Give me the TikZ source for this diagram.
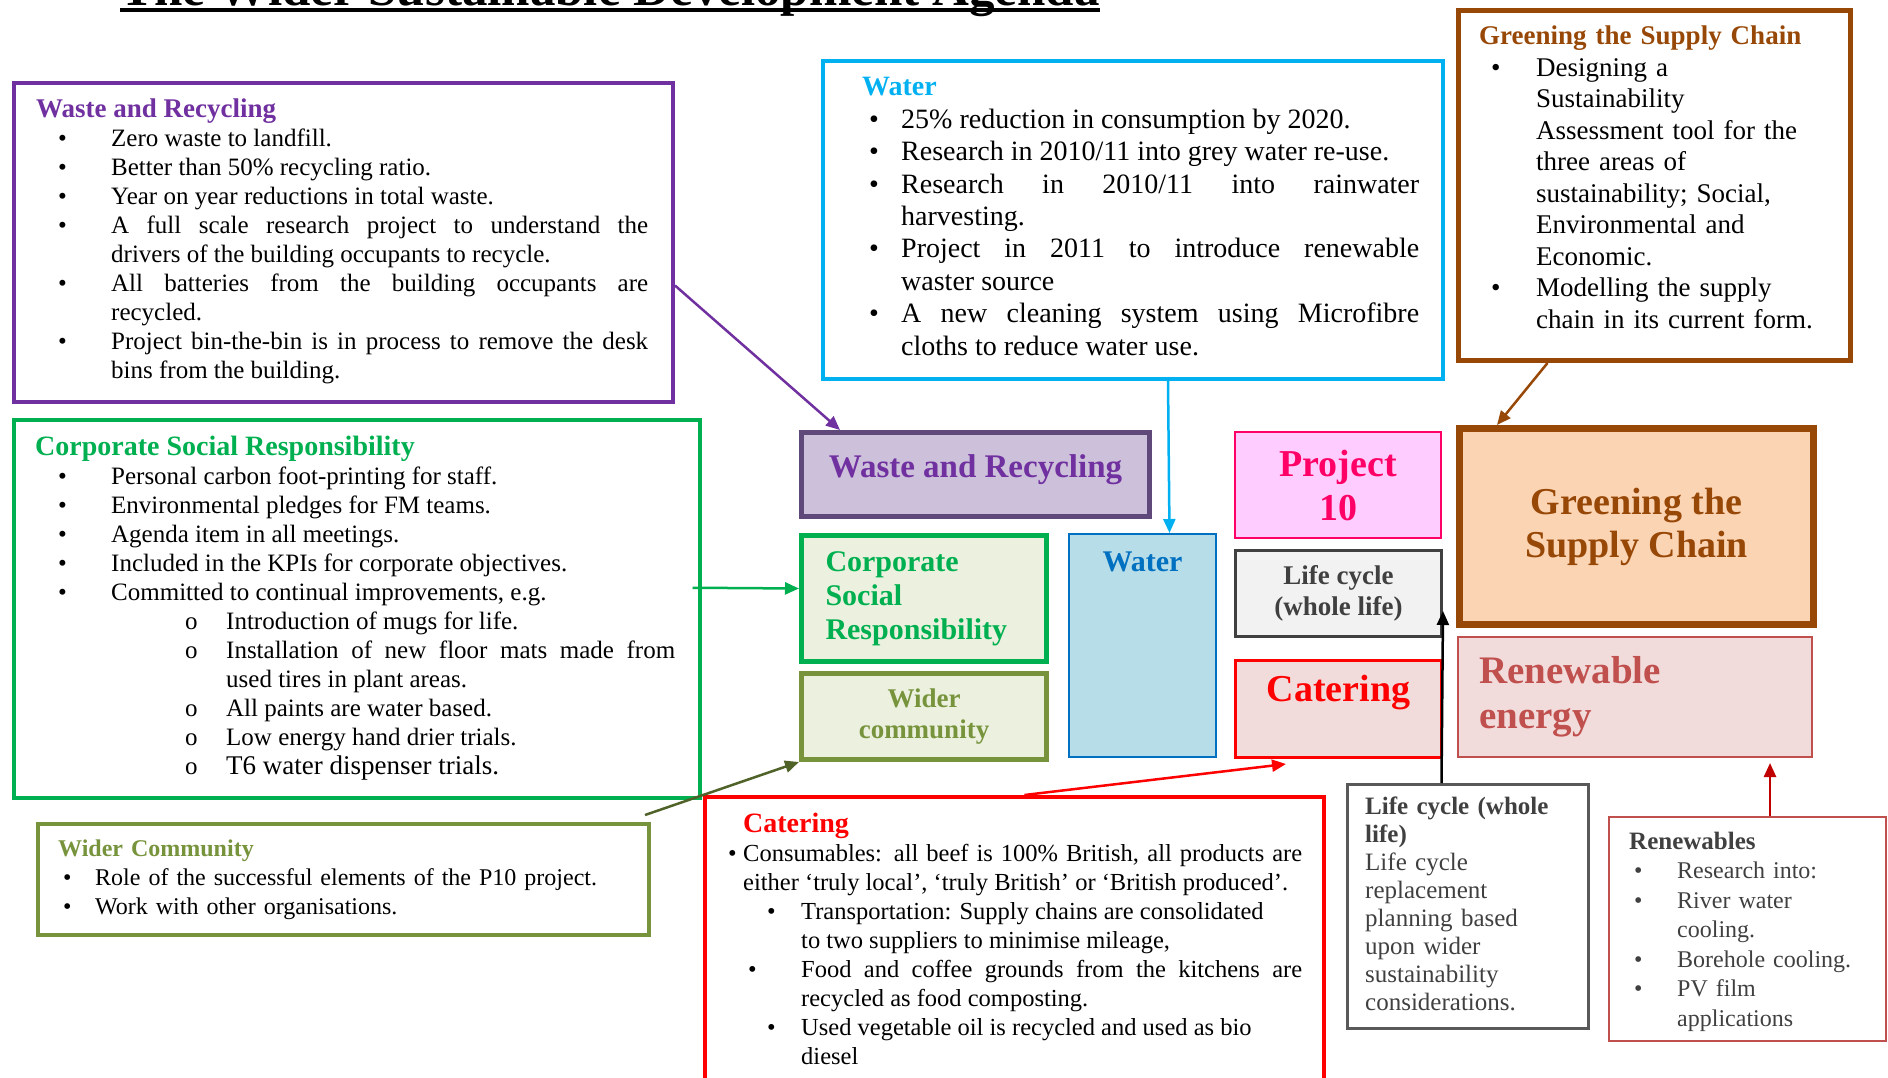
\documentclass[tikz,border=0pt]{standalone}
\usepackage{fontspec}
\setmainfont{Liberation Serif}
\usetikzlibrary{arrows.meta}
\hyphenpenalty=10000
\exhyphenpenalty=10000

\definecolor{wrpurple}{HTML}{7030A0}
\definecolor{wrframe}{HTML}{5F497A}
\definecolor{wrfill}{HTML}{CCC0DA}
\definecolor{wcyan}{HTML}{00B0F0}
\definecolor{wblue}{HTML}{0070C0}
\definecolor{wfill}{HTML}{B7DDE8}
\definecolor{gbrown}{HTML}{984806}
\definecolor{gfill}{HTML}{FBD4B4}
\definecolor{csrgreen}{HTML}{00B050}
\definecolor{lgfill}{HTML}{EBF1DE}
\definecolor{wcolive}{HTML}{77933C}
\definecolor{wcdark}{HTML}{4F6228}
\definecolor{pmag}{HTML}{FF0066}
\definecolor{pfill}{HTML}{FFCCFF}
\definecolor{lcgray}{HTML}{404040}
\definecolor{lcframe}{HTML}{595959}
\definecolor{lcfill}{HTML}{F2F2F2}
\definecolor{catred}{HTML}{FF0000}
\definecolor{pinkfill}{HTML}{F2DCDB}
\definecolor{renred}{HTML}{C0504D}
\definecolor{darkred}{HTML}{C00000}

% bullet lists inside the text boxes
\newlength\bulin \newlength\txtin
\newlength\subin \newlength\subtxt
\newcommand\subsym{o}
\newcommand\bul[1]{\par\noindent\hangindent=\txtin\hangafter=1\makebox[\txtin][l]{\hspace*{\bulin}\textbullet}#1}
\newcommand\subul[2][\subin]{\par\noindent\hangindent=\subtxt\hangafter=1\makebox[\subtxt][l]{\hspace*{#1}\subsym}#2}

\tikzset{
  frm/.style={draw, inner sep=0pt, anchor=north west},
  txt/.style={inner sep=0pt, anchor=base west},
  cbox/.style={draw, inner sep=0pt, anchor=north west, align=center},
  arr/.style={line width=2.5pt, -{Triangle[length=14pt,width=12pt]}},
}

\begin{document}
\begin{tikzpicture}[x=1pt,y=-1pt]
\useasboundingbox (0,0) rectangle (1888,1078);

\node[txt, font=\bfseries\fontsize{51}{56}\selectfont] (title) at (120,6) {The Wider Sustainable Development Agenda};
\draw[line width=4pt] ([yshift=-4pt]title.base west) -- ([yshift=-4pt]title.base east);

% detail boxes
\node[frm, draw=wrpurple, line width=4pt, minimum width=659pt, minimum height=319pt] (wrdet) at (12,81) {};
\node[txt, text width=612pt, align=justify, font=\fontsize{25}{29}\selectfont] (wrtxt) at (36,118) {%
\setlength\bulin{22pt}\setlength\txtin{75pt}%
{\color{wrpurple}\bfseries\fontsize{27}{29}\selectfont Waste and Recycling}
\bul{Zero waste to landfill.}
\bul{Better than 50\% recycling ratio.}
\bul{Year on year reductions in total waste.}
\bul{A full scale research project to understand the \linebreak drivers of the building occupants to recycle.}
\bul{All batteries from the building occupants are \linebreak recycled.}
\bul{Project bin-the-bin is in process to remove the desk \linebreak bins from the building.}\par};

\node[frm, draw=wcyan, line width=4pt, minimum width=620pt, minimum height=318pt] (wdet) at (821,59) {};
\node[txt, text width=557pt, align=justify, font=\fontsize{28}{32.4}\selectfont] (wtxt) at (862,96) {%
\setlength\bulin{7pt}\setlength\txtin{39pt}%
{\color{wcyan}\bfseries Water}
\bul{25\% reduction in consumption by 2020.}
\bul{Research in 2010/11 into grey water re-use.}
\bul{Research in 2010/11 into rainwater \linebreak harvesting.}
\bul{Project in 2011 to introduce renewable \linebreak waster source}
\bul{A new cleaning system using Microfibre \linebreak cloths to reduce water use.}\par};

\node[frm, draw=gbrown, line width=5pt, minimum width=392pt, minimum height=350pt] (gdet) at (1456,8) {};
\node[txt, text width=345pt, align=left, font=\fontsize{27}{31.5}\selectfont] (gtxt) at (1479,45) {%
\setlength\bulin{12pt}\setlength\txtin{57pt}%
{\color{gbrown}\bfseries Greening the Supply Chain}
\bul{Designing a \newline Sustainability \newline Assessment tool for the \newline three areas of \newline sustainability; Social, \newline Environmental and \newline Economic.}
\bul{Modelling the supply \newline chain in its current form.}\par};

\node[frm, draw=csrgreen, line width=3.5pt, minimum width=686pt, minimum height=378pt] (csrdet) at (12,418) {};
\node[txt, text width=640pt, align=justify, font=\fontsize{25}{29}\selectfont] (csrtxt) at (35,455) {%
\setlength\bulin{23pt}\setlength\txtin{76pt}\setlength\subin{150pt}\setlength\subtxt{191pt}%
{\color{csrgreen}\bfseries\fontsize{28}{29}\selectfont Corporate Social Responsibility}
\bul{Personal carbon foot-printing for staff.}
\bul{Environmental pledges for FM teams.}
\bul{Agenda item in all meetings.}
\bul{Included in the KPIs for corporate objectives.}
\bul{Committed to continual improvements, e.g.}
\subul{Introduction of mugs for life.}
\subul{Installation of new floor mats made from \linebreak used tires in plant areas.}
\subul{All paints are water based.}
\subul{Low energy hand drier trials.}
\subul{\fontsize{27}{29}\selectfont T6 water dispenser trials.}\par};

\node[frm, draw=wcolive, line width=4pt, minimum width=611pt, minimum height=111pt] (wcdet) at (36,822) {};
\node[txt, text width=580pt, align=left, font=\fontsize{24}{29}\selectfont] (wctxt) at (58,856) {%
\setlength\bulin{5pt}\setlength\txtin{37pt}%
{\color{wcolive}\bfseries Wider Community}
\bul{Role of the successful elements of the P10 project.}
\bul{Work with other organisations.}\par};

\node[frm, draw=catred, line width=4pt, minimum width=619pt, minimum height=320pt] (catdet) at (703,795) {};
\node[txt, text width=576pt, align=justify, font=\fontsize{24.5}{29}\selectfont] (cattxt) at (726,832) {%
\setlength\bulin{2pt}\setlength\txtin{17pt}\setlength\subin{41pt}\setlength\subtxt{75pt}%
\renewcommand\subsym{\textbullet}%
\hspace*{17pt}{\color{catred}\bfseries\fontsize{28}{29}\selectfont Catering}
\bul{Consumables: all beef is 100\% British, all products are \linebreak either ‘truly local’, ‘truly British’ or ‘British produced’.}
\subul{Transportation: Supply chains are consolidated \newline to two suppliers to minimise mileage,}
\subul[22pt]{Food and coffee grounds from the kitchens are \linebreak recycled as food composting.}
\subul{Used vegetable oil is recycled and used as bio \newline diesel}\par};

\node[frm, draw=lcframe, line width=3pt, minimum width=241pt, minimum height=244pt] (lcdet) at (1346,783) {};
\node[txt, text width=215pt, align=left, text=lcgray, font=\fontsize{25}{28}\selectfont] (lctxt) at (1365,814) {%
\textbf{Life cycle (whole \newline life)}
\par Life cycle \newline replacement \newline planning based \newline upon wider \newline sustainability \newline considerations.\par};

\node[frm, draw=renred, line width=2pt, minimum width=277pt, minimum height=224pt] (rdet) at (1608,816) {};
\node[txt, text width=240pt, align=left, text=lcgray, font=\fontsize{24}{29.5}\selectfont] (rtxt) at (1629,849) {%
\setlength\bulin{5pt}\setlength\txtin{48pt}%
{\bfseries\fontsize{25}{29.5}\selectfont Renewables}
\bul{Research into:}
\bul{River water \newline cooling.}
\bul{Borehole cooling.}
\bul{PV film \newline applications}\par};

% central boxes
\node[cbox, draw=wrframe, fill=wrfill, line width=5pt, minimum width=348pt, minimum height=84pt, text=wrpurple, font=\bfseries\fontsize{33}{38}\selectfont] (wr) at (799,430) {Waste and Recycling\\[-22pt]};
\node[cbox, draw=csrgreen, fill=lgfill, line width=5pt, minimum width=245pt, minimum height=126pt, text width=197pt, align=left, text=csrgreen, font=\bfseries\fontsize{30}{34}\selectfont] (csr) at (799,533) {Corporate\\Social\\Responsibility};
\node[cbox, draw=wcolive, fill=lgfill, line width=5pt, minimum width=245pt, minimum height=86pt, text=wcolive, font=\bfseries\fontsize{27}{31}\selectfont] (wc) at (799,671) {Wider\\community};
\node[cbox, draw=wblue, fill=wfill, line width=2pt, minimum width=147pt, minimum height=223pt] (water) at (1068,533) {};
\node[inner sep=0pt, text=wblue, font=\bfseries\fontsize{30}{34}\selectfont] (waterlbl) at ([yshift=-29pt]water.north) {Water};
\node[cbox, draw=pmag, fill=pfill, line width=2pt, minimum width=206pt, minimum height=106pt, text=pmag, font=\bfseries\fontsize{38}{44}\selectfont] (p10) at (1234,431) {Project\\10};
\node[cbox, draw=lcgray, fill=lcfill, line width=3pt, minimum width=206pt, minimum height=86pt, text=lcgray, font=\bfseries\fontsize{27}{31}\selectfont] (lc) at (1234,549) {Life cycle\\(whole life)};
\node[cbox, draw=catred, fill=pinkfill, line width=3pt, minimum width=206pt, minimum height=97pt] (cat) at (1234,659) {};
\node[inner sep=0pt, text=catred, font=\bfseries\fontsize{38}{44}\selectfont] (catlbl) at ([yshift=-34pt]cat.north) {Catering};
\node[cbox, draw=gbrown, fill=gfill, line width=7pt, minimum width=354pt, minimum height=196pt, text=gbrown, font=\bfseries\fontsize{38}{43}\selectfont] (gsc) at (1456,425) {Greening the\\Supply Chain};
\node[cbox, draw=renred, fill=pinkfill, line width=2pt, minimum width=354pt, minimum height=120pt, text width=312pt, align=left, text=renred, font=\bfseries\fontsize{39}{45}\selectfont] (ren) at (1457,636) {Renewable\\energy\\[6pt]};

% connectors
\draw[arr, wrpurple] ([yshift=-43pt]wrdet.east) -- ([xshift=41pt]wr.north west);
\draw[arr, wcyan] ([xshift=35pt]wdet.south) -- ([xshift=27pt]water.north);
\draw[arr, gbrown] ([xshift=-107pt]gdet.south) -- ([xshift=41pt]gsc.north west);
\draw[arr, csrgreen] ([shift={(-9pt,21pt)}]csrdet.east) -- ([yshift=10pt]csr.west);
\draw[arr, wcdark] ([shift={(-6pt,7pt)}]wcdet.north east) -- (wc.south west);
\draw[arr, catred] ([xshift=10pt]catdet.north) -- ([shift={(52pt,-5pt)}]cat.south west);
\draw[arr, black] ([xshift=-26.5pt]lcdet.north) -- ([yshift=27pt]lc.south east);
\draw[arr, darkred] ([xshift=22.5pt]rdet.north) -- ([shift={(135pt,-5pt)}]ren.south);
\end{tikzpicture}
\end{document}
